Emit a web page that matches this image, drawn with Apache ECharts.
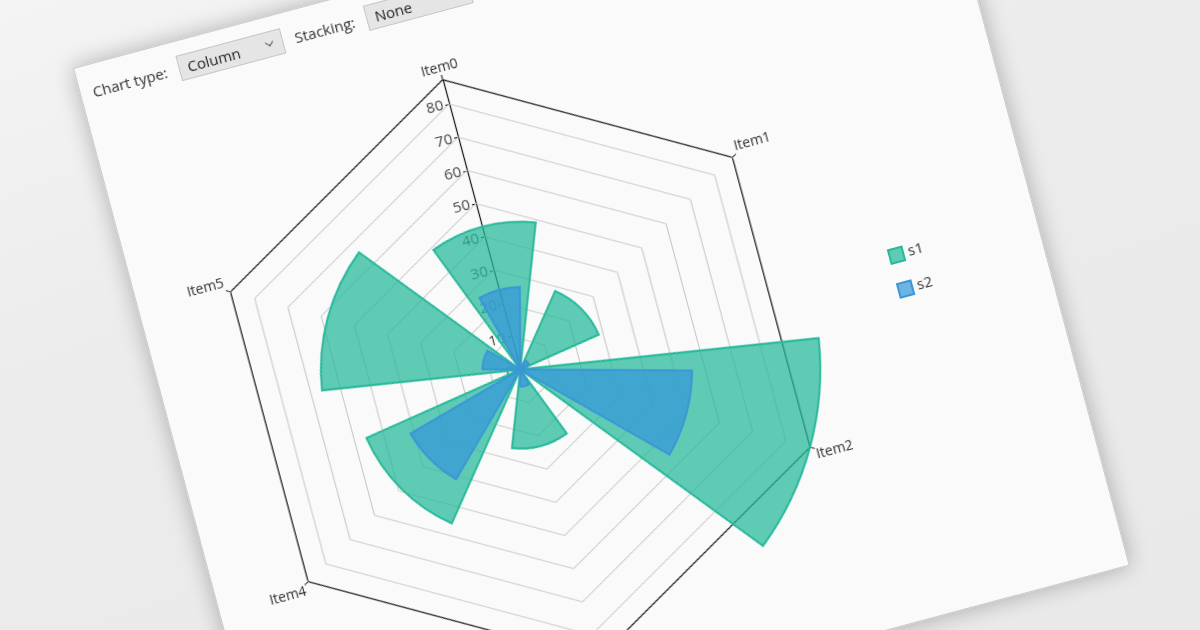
<!DOCTYPE html>
<html>
<head>
<meta charset="utf-8">
<script src="https://cdn.jsdelivr.net/npm/echarts@6/dist/echarts.min.js"></script>
<style>
html, body { margin: 0; padding: 0; }
body {
    width: 1200px; height: 630px; overflow: hidden; position: relative;
    background: linear-gradient(160deg, #f4f4f4 0%, #ececec 35%, #e9e9e9 100%);
    font-family: "Open Sans", "Noto Sans", sans-serif;
}
#panel {
    position: absolute; left: 73px; top: 68px; width: 890px; height: 752px;
    background: #fafafa;
    border: 1px solid #c9c9c9;
    box-shadow: 0 0 22px rgba(0,0,0,0.28);
    transform: rotate(-15deg); transform-origin: 0 0;
}
#chart { position: absolute; left: 0; top: 0; width: 890px; height: 752px; }
.lbl { position: absolute; top: 16px; font-size: 15px; color: #333; line-height: 22px; }
.sel {
    position: absolute; top: 14px; width: 108px; height: 26px;
    background: #e5e5e5; border: 1px solid #c6c6c6; box-sizing: border-box;
    font-size: 15px; color: #222; line-height: 24px; padding-left: 8px;
}
.sel i {
    position: absolute; right: 10px; top: 7px; width: 5px; height: 5px;
    border-right: 1px solid #555; border-bottom: 1px solid #555;
    transform: rotate(45deg);
}
</style>
</head>
<body>
<div id="panel">
    <div id="chart"></div>
    <div class="lbl" style="left:12px">Chart type:</div>
    <div class="sel" style="left:101px">Column<i></i></div>
    <div class="lbl" style="left:221px">Stacking:</div>
    <div class="sel" style="left:295px">None<i></i></div>
</div>
<script>
var categories = ['Item0', 'Item1', 'Item2', 'Item3', 'Item4', 'Item5'];
var s1 = [43, 25, 87.3, 23, 49, 58];
var s2 = [24, 3, 50, 5, 37, 11];
var gridLevels = [10, 20, 30, 40, 50, 60, 70, 80];
var radiusMax = 87.3;

var myChart = echarts.init(document.getElementById('chart'));

// polygon rings, one closed line per level, drawn through a value angle axis
function ring(level) {
    var pts = [];
    for (var i = 0; i <= categories.length; i++) {
        pts.push([level, i * 360 / categories.length]);
    }
    return pts;
}

var gridSeries = gridLevels.map(function(lv) {
    return {
        type: 'line', coordinateSystem: 'polar', polarIndex: 2,
        data: ring(lv), symbol: 'none', silent: true, z: 1,
        lineStyle: { color: '#c4c4c4', width: 1 }
    };
});
gridSeries.push({
    type: 'line', coordinateSystem: 'polar', polarIndex: 2,
    data: ring(radiusMax), symbol: 'none', silent: true, z: 1,
    lineStyle: { color: '#111', width: 1.2 }
});

var center = [353, 406];

myChart.setOption({
    animation: false,
    textStyle: { fontFamily: 'Open Sans' },
    legend: {
        orient: 'vertical',
        left: 733,
        top: 380,
        icon: 'rect',
        itemWidth: 14,
        itemHeight: 14,
        itemGap: 19,
        textStyle: { fontSize: 15, color: '#333' },
        data: ['s1', 's2']
    },
    polar: [
        { center: center, radius: 300 },
        { center: center, radius: 300 },
        { center: center, radius: 300 }
    ],
    angleAxis: [{
        polarIndex: 0,
        type: 'category',
        data: categories,
        boundaryGap: false,
        startAngle: 90,
        axisLine: { show: false },
        splitLine: { show: false },
        axisTick: { show: true, length: 5, lineStyle: { color: '#111' } },
        axisLabel: { margin: 5, fontSize: 14, color: '#333' }
    }, {
        polarIndex: 1,
        type: 'category',
        data: categories,
        boundaryGap: false,
        startAngle: 90,
        show: false
    }, {
        polarIndex: 2,
        type: 'value',
        min: 0, max: 360,
        startAngle: 90,
        show: false
    }],
    radiusAxis: [{
        polarIndex: 0,
        type: 'value',
        min: 0, max: radiusMax, interval: 10,
        axisLine: { lineStyle: { color: '#111', width: 1.2 } },
        axisTick: { show: true, inside: true, length: 4, lineStyle: { color: '#111' } },
        splitLine: { show: false },
        axisLabel: { showMaxLabel: false, fontSize: 15, color: '#444', margin: 6 }
    }, {
        polarIndex: 1,
        type: 'value',
        min: 0, max: radiusMax,
        show: false
    }, {
        polarIndex: 2,
        type: 'value',
        min: 0, max: radiusMax,
        show: false
    }],
    series: gridSeries.concat([{
        name: 's1',
        type: 'bar',
        coordinateSystem: 'polar',
        polarIndex: 0,
        data: s1,
        barWidth: '70%',
        z: 3,
        itemStyle: { color: 'rgba(38,185,154,0.73)', borderColor: '#26b99a', borderWidth: 2 }
    }, {
        name: 's2',
        type: 'bar',
        coordinateSystem: 'polar',
        polarIndex: 1,
        data: s2,
        barWidth: '49%',
        z: 4,
        itemStyle: { color: 'rgba(52,152,219,0.72)', borderColor: '#3a96d6', borderWidth: 2 }
    }])
});
</script>
</body>
</html>
